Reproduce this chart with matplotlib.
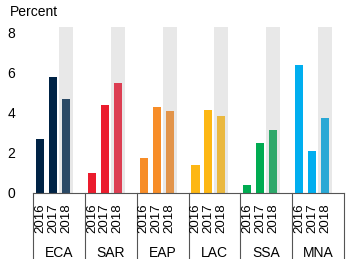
import matplotlib
matplotlib.use("Agg")
import matplotlib.pyplot as plt
import matplotlib.transforms as mtransforms
import numpy as np

plt.rcParams["font.family"] = ["Liberation Sans", "DejaVu Sans"]

regions = ["ECA", "SAR", "EAP", "LAC", "SSA", "MNA"]
years = ["2016", "2017", "2018"]
v2016 = [2.7, 1.0, 1.75, 1.4, 0.4, 6.4]
v2017 = [5.8, 4.4, 4.3, 4.15, 2.5, 2.1]
v2018 = [4.7, 5.5, 4.1, 3.85, 3.15, 3.75]
col_main = ["#002345", "#eb1c2d", "#f78d28", "#fdb714", "#00ab51", "#00aeef"]
col_2018 = ["#2b4a66", "#dc3e52", "#e2944a", "#eab83f", "#2ea86a", "#2aa8d5"]

YTOP = 8.3
offsets = [0.135, 0.385, 0.635]
bw = 0.155

fig = plt.figure(figsize=(3.46, 2.59), dpi=100)
ax = fig.add_axes([33 / 346, 1 - 193 / 259, 311 / 346, 166 / 259])

for i, r in enumerate(regions):
    vals = [v2016[i], v2017[i], v2018[i]]
    cols = [col_main[i], col_main[i], col_2018[i]]
    ax.bar(i + offsets[2], YTOP, width=0.27, color="#e8e8e8", zorder=0)
    ax.bar([i + o for o in offsets], vals, width=bw, color=cols, zorder=2)

ax.set_xlim(0, len(regions))
ax.set_ylim(0, YTOP)
ax.set_yticks([0, 2, 4, 6, 8])
ax.tick_params(axis="y", length=0, labelsize=10, pad=13)
ax.set_xticks([])
for s in ["top", "right", "left"]:
    ax.spines[s].set_visible(False)
ax.spines["bottom"].set_linewidth(0.8)
ax.spines["bottom"].set_color("#555555")

trans = mtransforms.blended_transform_factory(ax.transData, ax.transAxes)
h = 193 / 259 / (166 / 259)  # axes fraction down to figure bottom
for i in range(len(regions) + 1):
    ax.plot([i, i], [0, -h], transform=trans, color="#555555", lw=0.8, clip_on=False)
for i, r in enumerate(regions):
    for j, y in enumerate(years):
        ax.text(i + offsets[j], -0.06, y, transform=trans, rotation=90,
                ha="center", va="top", fontsize=9.5)
    ax.text(i + 0.5, -0.36, r, transform=trans, ha="center", va="center", fontsize=10)

fig.text(10 / 346, 1 - 12 / 259, "Percent", ha="left", va="center", fontsize=10)

fig.savefig("out.png", dpi=100)
